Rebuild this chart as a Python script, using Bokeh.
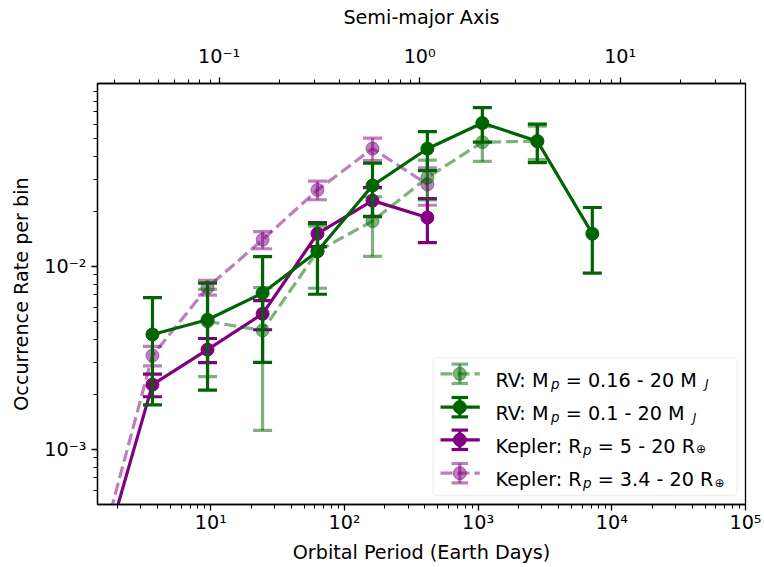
import math
from bokeh.plotting import figure
from bokeh.models import (Range1d, LogScale, LinearScale, LogAxis, FixedTicker,
                          BoxAnnotation, CustomJSTickFormatter)
from bokeh.embed import file_html
from bokeh.resources import INLINE
from bokeh.core.properties import value

# ---------------- data ----------------
period_bins = [1.42, 3.66, 9.45, 24.4, 62.8, 162.0, 417.0, 1075.0, 2772.0, 7145.0]

rv016_period = period_bins[2:9]
rv016_rate = [5.0e-3, 4.47e-3, 1.21e-2, 1.77e-2, 3.06e-2, 4.78e-2, 4.84e-2]
rv016_err = [2.5e-3, 3.2e-3, 4.5e-3, 6.35e-3, 7.5e-3, 1.03e-2, 1.0e-2]

rv01_period = period_bins[1:10]
rv01_rate = [4.25e-3, 5.11e-3, 7.16e-3, 1.21e-2, 2.77e-2, 4.40e-2, 6.08e-2, 4.84e-2, 1.51e-2]
rv01_err = [2.5e-3, 3.0e-3, 4.17e-3, 5.05e-3, 9.0e-3, 1.06e-2, 1.3e-2, 1.15e-2, 5.9e-3]

kep5_period = period_bins[0:7]
kep5_rate = [2.03e-4, 2.26e-3, 3.51e-3, 5.51e-3, 1.51e-2, 2.29e-2, 1.85e-2]
kep5_err = [5.0e-5, 3.2e-4, 5.3e-4, 1.0e-3, 2.25e-3, 4.1e-3, 5.0e-3]

kep34_period = period_bins[0:7]
kep34_rate = [2.48e-4, 3.26e-3, 7.68e-3, 1.40e-2, 2.62e-2, 4.41e-2, 2.81e-2]
kep34_err = [6.0e-5, 4.0e-4, 7.1e-4, 1.5e-3, 3.05e-3, 6.2e-3, 6.5e-3]

# legend labels split into (text, subscript, text, subscript)
legend_parts = [("RV: M", "p", " = 0.16 - 20 M", "J"),
                ("RV: M", "p", " = 0.1 - 20 M", "J"),
                ("Kepler: R", "p", " = 5 - 20 R", "\u2295"),
                ("Kepler: R", "p", " = 3.4 - 20 R", "\u2295")]

x_major = [10, 100, 1000, 10000, 100000]
y_major = [1e-3, 1e-2]
a_major = [0.1, 1, 10]

x_lim = (1.42, 1e5)
y_lim = (5e-4, 0.1)

def to_au(P):
    return (P / 365.25) ** (2.0 / 3.0)

def minors(lo, hi):
    out = []
    for d in range(-5, 6):
        for k in range(2, 10):
            v = k * 10.0 ** d
            if lo < v < hi:
                out.append(v)
    return out

# DejaVu Sans advance widths (font units of 2048) for legend text layout
ADV = {' ': 651, '=': 1716, '0': 1303, '1': 1303, '2': 1303, '3': 1303, '4': 1303,
       '5': 1303, '6': 1303, '.': 651, '-': 739, 'M': 1767, 'R': 1423, 'V': 1401,
       ':': 690, 'K': 1343, 'e': 1260, 'p': 1300, 'l': 569, 'r': 842}

def text_w(s, size):
    return sum(ADV[ch] for ch in s) / 2048.0 * size

# ---------------- figure ----------------
FONT = "DejaVu Sans"
FSN = 19.2
FS = "19.2px"
SUBN = 13.4
DARK_GREEN = "#006400"
PURPLE = "#800080"

p = figure(frame_width=648, frame_height=421,
           x_axis_type="log", y_axis_type="log",
           x_range=Range1d(*x_lim), y_range=Range1d(*y_lim),
           output_backend="svg", toolbar_location=None,
           min_border_left=97, min_border_right=19, min_border_top=83, min_border_bottom=63)
p.background_fill_color = "white"
p.border_fill_color = "white"
p.outline_line_color = "black"
p.outline_line_width = 1.3
p.xgrid.visible = False
p.ygrid.visible = False

p.extra_x_ranges = {"a": Range1d(to_au(x_lim[0]), to_au(x_lim[1])),
                    "lx": Range1d(0, 648)}
p.extra_y_ranges = {"ly": Range1d(0, 421)}
p.extra_x_scales = {"a": LogScale(), "lx": LinearScale()}
p.extra_y_scales = {"ly": LinearScale()}

fmt_code = """
const sup = {"-": "\\u207b", "0": "\\u2070", "1": "\\u00b9", "2": "\\u00b2", "3": "\\u00b3",
             "4": "\\u2074", "5": "\\u2075", "6": "\\u2076", "7": "\\u2077", "8": "\\u2078", "9": "\\u2079"};
const e = Math.round(Math.log10(tick));
return "10" + String(e).split("").map(c => sup[c]).join("");
"""

def style_axis(ax):
    ax.axis_line_width = 1.3
    ax.major_tick_line_width = 1.3
    ax.minor_tick_line_width = 1.0
    ax.major_tick_in = 0
    ax.major_tick_out = 6
    ax.minor_tick_in = 0
    ax.minor_tick_out = 4
    ax.major_label_text_font = FONT
    ax.major_label_text_font_size = FS
    ax.major_label_text_color = "black"
    ax.axis_label_text_font = FONT
    ax.axis_label_text_font_size = FS
    ax.axis_label_text_font_style = "normal"
    ax.axis_label_text_color = "black"
    ax.formatter = CustomJSTickFormatter(code=fmt_code)

xa = p.xaxis[0]
xa.ticker = FixedTicker(ticks=x_major, minor_ticks=minors(*x_lim))
xa.axis_label = "Orbital Period (Earth Days)"
style_axis(xa)
xa.major_label_standoff = 0
xa.axis_label_standoff = 4

ya = p.yaxis[0]
ya.ticker = FixedTicker(ticks=y_major, minor_ticks=minors(*y_lim))
ya.axis_label = "Occurrence Rate per bin"
style_axis(ya)
ya.major_label_standoff = 5
ya.axis_label_standoff = 8

top = LogAxis(x_range_name="a", axis_label="Semi-major Axis",
              ticker=FixedTicker(ticks=a_major, minor_ticks=minors(to_au(x_lim[0]), to_au(x_lim[1]))))
style_axis(top)
top.major_label_standoff = 10
top.axis_label_standoff = 13
p.add_layout(top, "above")

# ---------------- series ----------------
LW = 3.2
CAP = 19
MS = 13

def series(px, rate, err, color, alpha, dash):
    lo = [r - e for r, e in zip(rate, err)]
    hi = [r + e for r, e in zip(rate, err)]
    p.segment(px, lo, px, hi, line_color=color, line_alpha=alpha, line_width=LW)
    p.scatter(px, lo, marker="dash", size=CAP, line_color=color, line_alpha=alpha, line_width=LW)
    p.scatter(px, hi, marker="dash", size=CAP, line_color=color, line_alpha=alpha, line_width=LW)
    p.line(px, rate, line_color=color, line_alpha=alpha, line_width=LW, line_dash=dash)
    p.scatter(px, rate, marker="circle", size=MS, fill_color=color, fill_alpha=alpha,
              line_color=color, line_alpha=alpha, line_width=1)

series(kep5_period, kep5_rate, kep5_err, PURPLE, 1.0, "solid")
series(kep34_period, kep34_rate, kep34_err, PURPLE, 0.5, "12 5")
series(rv016_period, rv016_rate, rv016_err, DARK_GREEN, 0.5, "12 5")
series(rv01_period, rv01_rate, rv01_err, DARK_GREEN, 1.0, "solid")

# ---------------- legend (frame pixel coordinates) ----------------
box = BoxAnnotation(left=335.7, right=639.7, bottom=9.0, top=146.7,
                    x_range_name="lx", y_range_name="ly",
                    fill_color="white", fill_alpha=0.8,
                    line_color="#cccccc", line_width=1.5, border_radius=4)
p.add_layout(box)

leg_rows = [130.7, 97.3, 64.7, 31.3]
leg_colors = [DARK_GREEN, DARK_GREEN, PURPLE, PURPLE]
leg_alphas = [0.5, 1.0, 1.0, 0.5]
leg_dashes = ["12 5", "solid", "solid", "12 5"]
kw = dict(x_range_name="lx", y_range_name="ly", level="overlay")
tkw = dict(text_baseline="alphabetic", text_align="left", text_color="black",
           text_font=value(FONT), **kw)
X_TEXT = 398.0
for yy, c, a, d, parts in zip(leg_rows, leg_colors, leg_alphas, leg_dashes, legend_parts):
    p.line([343.0, 382.3], [yy, yy], line_color=c, line_alpha=a, line_width=LW, line_dash=d, **kw)
    p.segment([362.3], [yy - 9.7], [362.3], [yy + 9.7], line_color=c, line_alpha=a, line_width=LW, **kw)
    p.scatter([362.3, 362.3], [yy - 9.7, yy + 9.7], marker="dash", size=16.5,
              line_color=c, line_alpha=a, line_width=LW, **kw)
    p.scatter([362.3], [yy], marker="circle", size=MS, fill_color=c, fill_alpha=a,
              line_color=c, line_alpha=a, **kw)
    pre, s1, post, s2 = parts
    base = yy - 6.3
    sub_base = base - 4.0
    x1 = X_TEXT + text_w(pre, FSN)
    x2 = x1 + text_w(s1, SUBN)
    post_core = post.lstrip(" ")
    x2b = x2 + text_w(post[:len(post) - len(post_core)], FSN)
    x3 = x2b + text_w(post_core, FSN)
    p.text([X_TEXT], [base], text=[pre], text_font_size=value(FS), **tkw)
    p.text([x1], [sub_base], text=[s1], text_font_size=value("13.4px"),
           text_font_style="italic", **tkw)
    p.text([x2b], [base], text=[post_core], text_font_size=value(FS), **tkw)
    if s2 == "J":
        p.text([x3 + 8.0], [sub_base], text=[s2], text_font_size=value("12px"),
               text_font_style="italic", **tkw)
    else:
        p.text([x3 + 1.0], [base - 3.0], text=[s2], text_font_size=value("12px"), **tkw)

open("out.html", "w").write(file_html(p, INLINE))
